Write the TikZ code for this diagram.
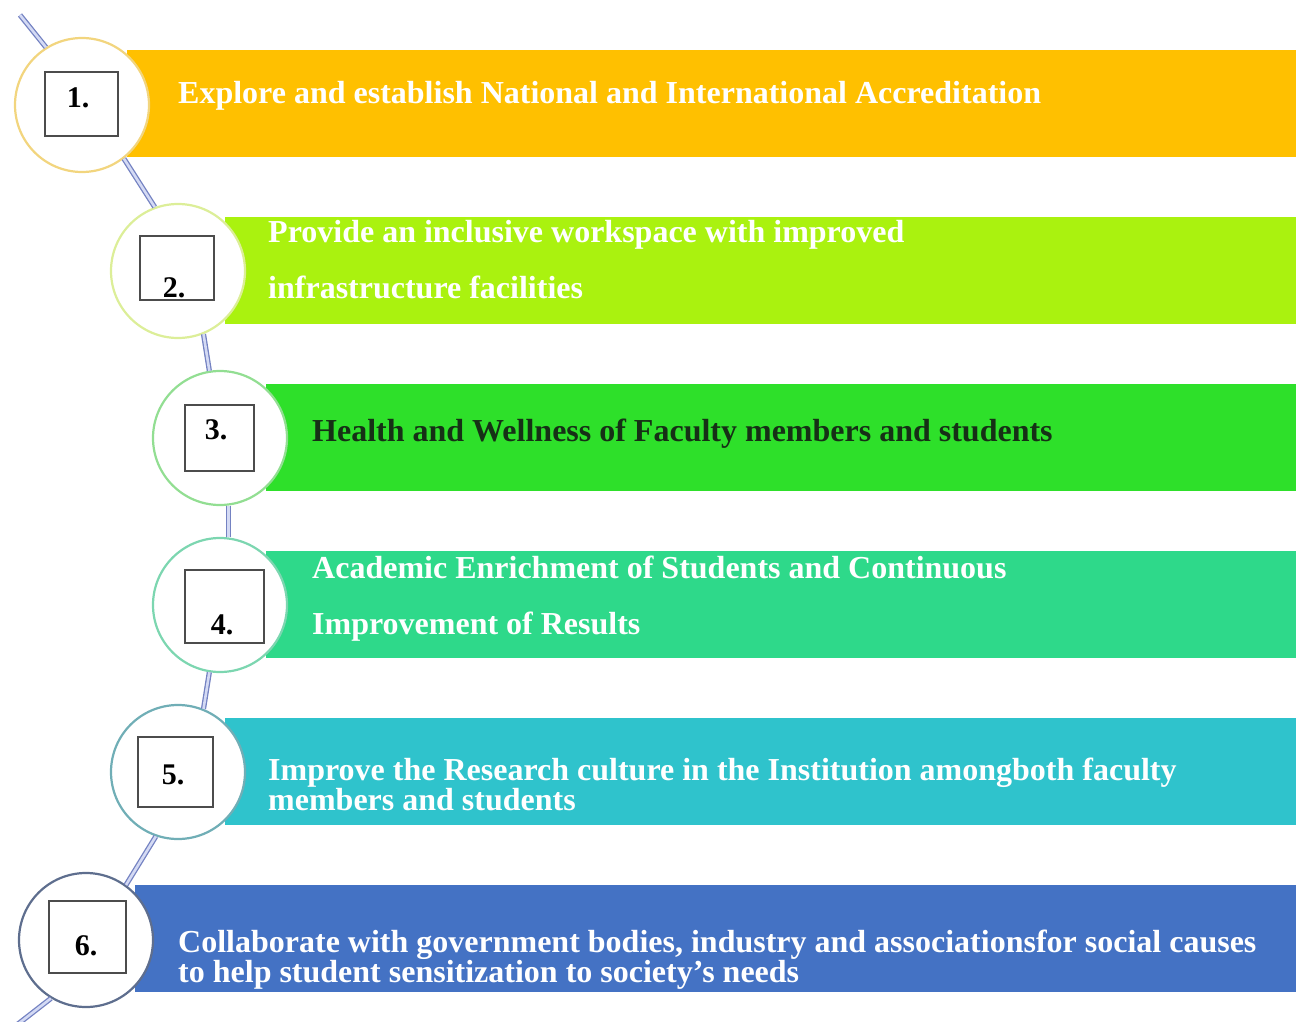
\documentclass[tikz,border=0pt]{standalone}
\usepackage{fontspec}
\setmainfont{Liberation Serif}
\usetikzlibrary{calc}

\definecolor{bandA}{HTML}{FFC000}
\definecolor{bandB}{HTML}{AAF20F}
\definecolor{bandC}{HTML}{2EE02A}
\definecolor{bandD}{HTML}{2ED98A}
\definecolor{bandE}{HTML}{2FC3CC}
\definecolor{bandF}{HTML}{4472C4}
\definecolor{ringA}{HTML}{F2D57E}
\definecolor{ringB}{HTML}{DCEE98}
\definecolor{ringC}{HTML}{92DE92}
\definecolor{ringD}{HTML}{7CD6B0}
\definecolor{ringE}{HTML}{70AEB6}
\definecolor{ringF}{HTML}{5E6E8E}
\definecolor{linkout}{HTML}{7482C2}
\definecolor{linkin}{HTML}{D4DAF4}
\definecolor{darktext}{HTML}{163016}

\newcommand\tightgoalfont{\fontsize{32}{30}\selectfont\bfseries\lineskiplimit-40pt\relax}

\begin{document}
\begin{tikzpicture}[x=1pt,y=-1pt,
  band/.style={inner sep=0,minimum height=107pt,anchor=west},
  ring/.style={circle,fill=white,line width=2.2pt,minimum size=134pt,inner sep=0},
  numbox/.style={draw=black!70,fill=white,line width=1.3pt,inner sep=0},
  num/.style={font=\fontsize{30}{30}\selectfont\bfseries,inner sep=0},
  goal/.style={font=\fontsize{32}{56}\selectfont\bfseries,text=white,anchor=base west,inner sep=0,align=left},
  goaltight/.style={goal,font=\tightgoalfont},
  link/.style={draw=linkout,double=linkin,line width=1.3pt,double distance=2.6pt}
]
\useasboundingbox (0,0) rectangle (1296,1022);

% Bands
\node[band,fill=bandA,minimum width=1169pt] (band1) at (127,103.5) {};
\node[band,fill=bandB,minimum width=1071pt] (band2) at (225,270.5) {};
\node[band,fill=bandC,minimum width=1030pt] (band3) at (266,437.5) {};
\node[band,fill=bandD,minimum width=1030pt] (band4) at (266,604.5) {};
\node[band,fill=bandE,minimum width=1071pt] (band5) at (225,771.5) {};
\node[band,fill=bandF,minimum width=1161pt] (band6) at (135,938.5) {};

% Rings
\node[ring,draw=ringA] (ring1) at (82,105) {};
\node[ring,draw=ringB] (ring2) at (178,271) {};
\node[ring,draw=ringC] (ring3) at (220,438) {};
\node[ring,draw=ringD] (ring4) at (220,605) {};
\node[ring,draw=ringE] (ring5) at (178,772) {};
\node[ring,draw=ringF] (ring6) at (86,940) {};

% The timeline
\coordinate (start) at (20,15);
\coordinate (finish) at (18,1024);
\draw[link] (start) -- (ring1.122);
\draw[link] (ring1.-52) -- (ring2.110);
\draw[link] (ring2.-68) -- (ring3.99);
\draw[link] (ring3.-83) -- (ring4.83);
\draw[link] (ring4.-99) -- (ring5.68);
\draw[link] (ring5.-109) -- (ring6.54);
\draw[link] (ring6.-121) -- (finish);

% Number boxes
\node[numbox,minimum width=73pt,minimum height=64pt] (box1) at (81.5,104) {};
\node[numbox,minimum width=74pt,minimum height=64pt] (box2) at (177,268) {};
\node[numbox,minimum width=69pt,minimum height=66pt] (box3) at (219.5,438) {};
\node[numbox,minimum width=79pt,minimum height=73pt] (box4) at (224.5,606.5) {};
\node[numbox,minimum width=75pt,minimum height=70pt] (box5) at (175.5,772) {};
\node[numbox,minimum width=77pt,minimum height=72pt] (box6) at (87.5,937) {};
\node[num] (num1) at (78,98) {1.};
\node[num] (num2) at (174,288) {2.};
\node[num] (num3) at (216,430) {3.};
\node[num] (num4) at (222,625) {4.};
\node[num] (num5) at (173,775) {5.};
\node[num] (num6) at (86,946) {6.};

% Goals (multi-line ones sit on their last baseline)
\node[goal] (goal1) at (178,104) {Explore and establish National and International Accreditation};
\node[goal] (goal2) at (268,298) {Provide an inclusive workspace with improved\\infrastructure facilities};
\node[goal,text=darktext] (goal3) at (312,441) {Health and Wellness of Faculty members and students};
\node[goal] (goal4) at (312,634) {Academic Enrichment of Students and Continuous\\Improvement of Results};
\node[goaltight] (goal5) at (268,810) {Improve the Research culture in the Institution amongboth faculty\\members and students};
\node[goaltight] (goal6) at (178,982) {Collaborate with government bodies, industry and associationsfor social causes\\to help student sensitization to society’s needs};

\end{tikzpicture}
\end{document}
